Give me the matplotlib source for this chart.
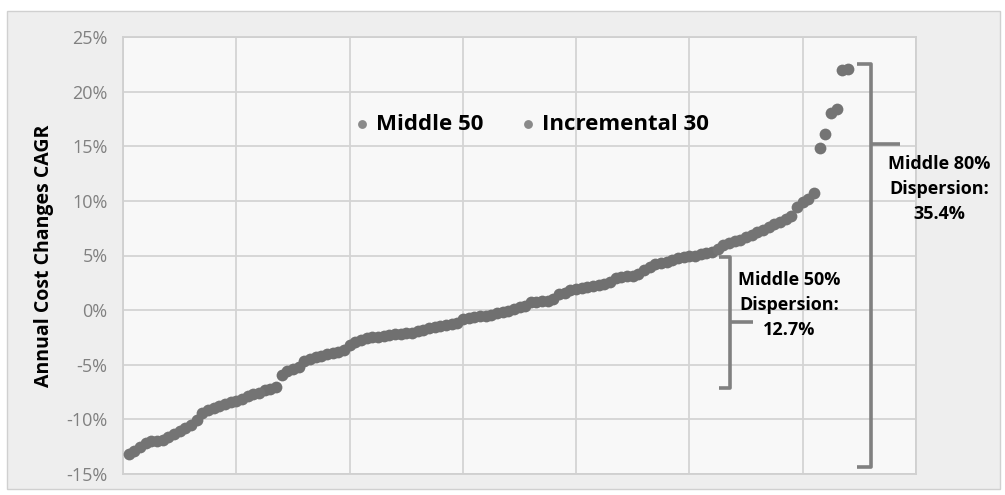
import matplotlib.pyplot as plt
from matplotlib.patches import Rectangle
from matplotlib.ticker import PercentFormatter

# values, sorted low to high (%), one per item
cagr = [
    -13.2, -12.9, -12.5, -12.2, -12.0, -11.95, -11.9, -11.6, -11.3, -11.1,
    -10.8, -10.5, -10.1, -9.4, -9.1, -8.95, -8.8, -8.6, -8.45, -8.3,
    -8.1, -7.9, -7.7, -7.55, -7.35, -7.2, -7.0, -5.9, -5.6, -5.4,
    -5.2, -4.7, -4.45, -4.3, -4.2, -4.05, -3.9, -3.8, -3.65, -3.2,
    -2.95, -2.7, -2.55, -2.5, -2.45, -2.35, -2.28, -2.2, -2.15, -2.1,
    -2.05, -1.9, -1.78, -1.65, -1.55, -1.45, -1.35, -1.25, -1.15, -0.85,
    -0.7, -0.6, -0.55, -0.5, -0.42, -0.3, -0.15, -0.05, 0.1, 0.25,
    0.4, 0.75, 0.78, 0.8, 0.85, 1.0, 1.5, 1.6, 1.8, 1.9,
    2.0, 2.1, 2.2, 2.3, 2.4, 2.6, 2.9, 3.0, 3.08, 3.15,
    3.3, 3.7, 3.95, 4.2, 4.3, 4.4, 4.6, 4.75, 4.85, 4.95,
    5.0, 5.1, 5.2, 5.35, 5.6, 6.0, 6.1, 6.3, 6.45, 6.65,
    6.9, 7.15, 7.35, 7.65, 7.9, 8.1, 8.35, 8.6, 9.4, 9.9,
    10.2, 10.7, 14.8, 16.1, 18.0, 18.4, 22.0, 22.1,
]
idx = list(range(1, len(cagr) + 1))

mid_start, mid_end = 25, 104   # items inside the middle 50
mid_x = [i for i in idx if mid_start <= i <= mid_end]
mid_y = [cagr[i - 1] for i in mid_x]
inc_x = [i for i in idx if i < mid_start or i > mid_end]
inc_y = [cagr[i - 1] for i in inc_x]

series_names = ["Middle 50", "Incremental 30"]
yticks = [-15, -10, -5, 0, 5, 10, 15, 20, 25]

plt.rcParams['font.family'] = ['Open Sans', 'DejaVu Sans']
plt.rcParams['axes.unicode_minus'] = False

fig = plt.figure(figsize=(10.05, 4.95), dpi=100)
fig.patch.set_facecolor('white')
# chart area with its light border
fig.patches.append(Rectangle((7 / 1005, 6 / 495), 993 / 1005, 478 / 495,
                             transform=fig.transFigure, facecolor='#eeeeee',
                             edgecolor='#d0d0d0', lw=1, zorder=-10))

ax = fig.add_axes([123 / 1005, 21 / 495, 793 / 1005, 437 / 495])
ax.set_facecolor('#f8f8f8')

ax.scatter(mid_x, mid_y, s=72, color='#707070', label=series_names[0], zorder=3, lw=0)
ax.scatter(inc_x, inc_y, s=72, color='#747474', label=series_names[1], zorder=3, lw=0)

ax.set_xlim(0, 140)
ax.set_ylim(-15, 25)
ax.set_xticks(range(0, 141, 20))
ax.set_yticks(yticks)
ax.yaxis.set_major_formatter(PercentFormatter(decimals=0))
ax.tick_params(axis='x', labelbottom=False, length=0)
ax.tick_params(axis='y', length=0, pad=11, labelsize=13, labelcolor='#808080')
ax.grid(True, color='#d4d4d4', lw=1.3)
ax.set_axisbelow(True)
for s in ax.spines.values():
    s.set_color('#d0d0d0')
    s.set_linewidth(1.3)

ax.set_ylabel("Annual Cost Changes CAGR", fontsize=14, fontweight='bold', labelpad=9)

leg = ax.legend(loc='center', bbox_to_anchor=(0.513, 0.80), ncol=2, frameon=False,
                prop={'weight': 'bold', 'size': 16}, markerscale=0.75,
                handletextpad=0.15, columnspacing=1.5, handlelength=1.0)
for h in leg.legend_handles:
    h.set_color('#8a8a8a')

# brackets for the two dispersion ranges
br = dict(color='#808080', lw=2.6, clip_on=False, solid_capstyle='butt', zorder=4)
ax.plot([105.2, 107.2, 107.2, 105.2], [4.9, 4.9, -7.09, -7.09], **br)
ax.plot([107.2, 111.2], [-1.09, -1.09], **br)
ax.plot([129.6, 132.1, 132.1, 129.6], [22.55, 22.55, -14.4, -14.4], **br)
ax.plot([132.1, 137.2], [15.18, 15.18], **br)

ax.text(117.6, 0.45, "Middle 50%\nDispersion:\n12.7%", ha='center', va='center',
        fontsize=13, fontweight='bold', linespacing=1.5)
ax.text(144.1, 11.1, "Middle 80%\nDispersion:\n35.4%", ha='center', va='center',
        fontsize=13, fontweight='bold', linespacing=1.5, clip_on=False)

fig.savefig('out.png', dpi=100, facecolor=fig.get_facecolor())
